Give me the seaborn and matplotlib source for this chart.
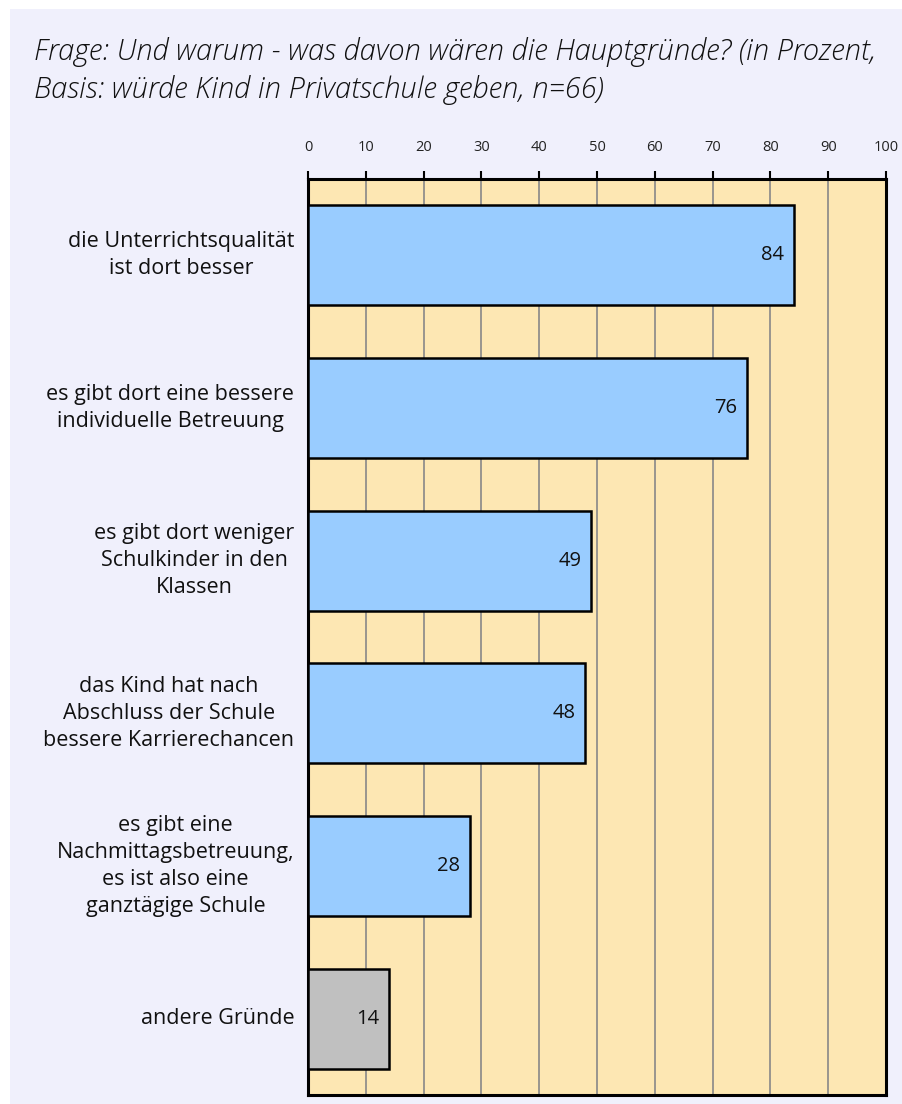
import matplotlib
matplotlib.use("Agg")
import matplotlib.pyplot as plt
import seaborn as sns
import pandas as pd
from matplotlib.patches import Rectangle

categories = [
    "die Unterrichtsqualität\nist dort besser",
    "es gibt dort eine bessere\nindividuelle Betreuung",
    "es gibt dort weniger\nSchulkinder in den\nKlassen",
    "das Kind hat nach\nAbschluss der Schule\nbessere Karrierechancen",
    "es gibt eine\nNachmittagsbetreuung,\nes ist also eine\nganztägige Schule",
    "andere Gründe",
]
values = [84, 76, 49, 48, 28, 14]
bar_colors = ["#99CCFF", "#99CCFF", "#99CCFF", "#99CCFF", "#99CCFF", "#C0C0C0"]
x_ticks = [0, 10, 20, 30, 40, 50, 60, 70, 80, 90, 100]
title = ("Frage: Und warum - was davon wären die Hauptgründe? (in Prozent,\n"
         "Basis: würde Kind in Privatschule geben, n=66)")

sns.set_theme(style="white")
plt.rcParams["font.family"] = ["Open Sans", "DejaVu Sans"]

df = pd.DataFrame({"cat": categories, "val": values})

fig = plt.figure(figsize=(9.02, 11.04), dpi=100, facecolor="white")
# lavender panel
bg = Rectangle((10 / 902, 0), 1 - 10 / 902, (1104 - 9) / 1104,
               transform=fig.transFigure, facecolor="#F0F0FC",
               edgecolor="none", zorder=-10)
fig.patches.append(bg)

ax = fig.add_axes([308 / 902, 9 / 1104, 578 / 902, 916 / 1104])
ax.set_zorder(1)
ax.set_facecolor("#FDE7B3")

sns.barplot(data=df, y="cat", x="val", hue="cat", palette=bar_colors,
            saturation=1, legend=False, orient="h", width=0.655, ax=ax,
            edgecolor="black", linewidth=1.8, zorder=3)

ax.set_xlim(0, 100)
ax.set_ylim(len(categories) - 0.5, -0.5)
ax.set_xticks(x_ticks)
ax.set_xticklabels([str(t) for t in x_ticks], fontsize=10.5, color="#222222")
ax.xaxis.tick_top()
ax.tick_params(axis="x", which="both", top=True, bottom=False, direction="out",
               length=6, width=1.5, color="black", pad=11)
ax.grid(axis="x", color="#888888", linewidth=1.2, zorder=1)
ax.set_axisbelow(True)
ax.set_xlabel("")
ax.set_ylabel("")
ax.set_yticks(range(len(categories)))
ax.set_yticklabels([])
ax.tick_params(axis="y", left=False, length=0)
for s in ax.spines.values():
    s.set_visible(True)
    s.set_color("black")
    s.set_linewidth(2.2)

for i, (c, v) in enumerate(zip(categories, values)):
    ax.text(-2.4, i, c, ha="right", va="center", multialignment="center",
            fontsize=15.5, color="#111111", linespacing=1.38, clip_on=False)
    ax.text(v - 1.7, i, f"{v}", ha="right", va="center", fontsize=14.5,
            color="#111111", zorder=5)

fig.text(34 / 902, 1 - 37 / 1104, title, ha="left", va="top", fontsize=21,
         style="italic", fontweight="light", color="#111111", linespacing=1.36)

fig.savefig("out.png", dpi=100, facecolor="white")
